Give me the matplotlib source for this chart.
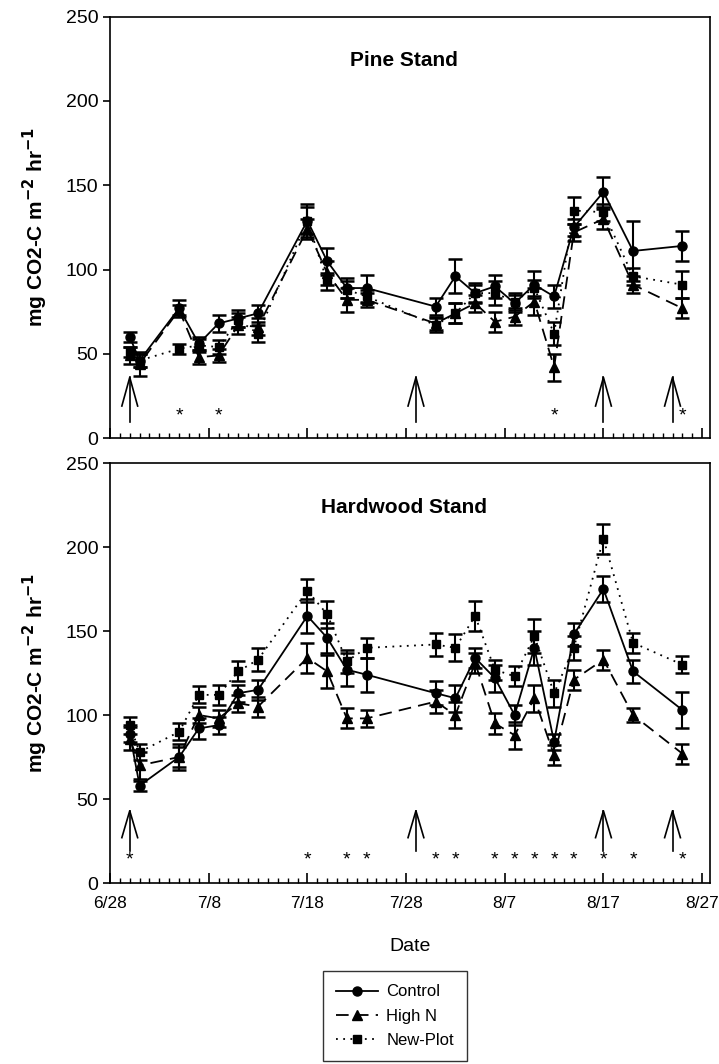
import numpy as np
import matplotlib
matplotlib.use("Agg")
import matplotlib.pyplot as plt
from matplotlib.lines import Line2D
from datetime import date

plt.rcParams['font.family'] = ['Liberation Sans', 'DejaVu Sans']

# sampling dates (same for both stands)
dates = ['6/30', '7/1', '7/5', '7/7', '7/9', '7/11', '7/13', '7/18', '7/20', '7/22', '7/24',
         '7/31', '8/2', '8/4', '8/6', '8/8', '8/10', '8/12', '8/14', '8/17', '8/20', '8/25']

# Pine stand
pine_control = [60, 46, 77, 56, 68, 71, 74, 129, 105, 89, 89, 78, 96, 86, 90, 80, 91, 84, 125, 146, 111, 114]
pine_control_err = [3, 4, 5, 4, 5, 5, 5, 10, 8, 6, 8, 5, 10, 6, 7, 5, 8, 7, 5, 9, 18, 9]
pine_highn = [49, 44, 76, 48, 49, 67, 66, 124, 98, 82, 82, 68, 74, 80, 69, 72, 81, 42, 122, 130, 91, 77]
pine_highn_err = [5, 7, 3, 4, 4, 5, 5, 6, 7, 7, 4, 4, 6, 5, 6, 5, 8, 8, 5, 6, 5, 6]
pine_new = [51, 46, 53, 55, 54, 70, 62, 129, 93, 88, 84, 67, 74, 86, 86, 81, 89, 62, 135, 134, 96, 91]
pine_new_err = [3, 4, 3, 4, 4, 4, 5, 8, 5, 5, 4, 4, 6, 5, 7, 5, 5, 7, 8, 5, 5, 8]

# Hardwood stand
hw_control = [89, 58, 75, 92, 94, 113, 115, 159, 146, 127, 124, 113, 110, 134, 122, 100, 140, 84, 148, 175, 126, 103]
hw_control_err = [5, 3, 8, 6, 5, 5, 6, 10, 9, 10, 10, 7, 8, 6, 8, 6, 10, 5, 7, 8, 7, 11]
hw_highn = [86, 70, 75, 100, 98, 107, 105, 134, 126, 98, 98, 108, 100, 131, 95, 88, 110, 76, 121, 133, 100, 77]
hw_highn_err = [7, 8, 6, 5, 5, 5, 6, 9, 10, 6, 5, 7, 8, 6, 6, 8, 8, 6, 6, 6, 4, 6]
hw_new = [94, 78, 90, 112, 112, 126, 133, 174, 160, 132, 140, 142, 140, 159, 127, 123, 147, 113, 140, 205, 143, 130]
hw_new_err = [5, 5, 5, 5, 6, 6, 7, 7, 8, 7, 6, 7, 8, 9, 6, 6, 10, 8, 7, 9, 6, 5]

# arrows (treatment dates) and significance stars
arrow_dates = ['6/30', '7/29', '8/17', '8/24']
pine_stars = ['7/5', '7/9', '8/12', '8/25']
hw_stars = ['6/30', '7/18', '7/22', '7/24', '7/31', '8/2', '8/6', '8/8', '8/10',
            '8/12', '8/14', '8/17', '8/20', '8/25']

xtick_labels = ['6/28', '7/8', '7/18', '7/28', '8/7', '8/17', '8/27']
series_names = ['Control', 'High N', 'New-Plot']


def to_day(s):
    m, d = map(int, s.split('/'))
    return (date(2001, m, d) - date(2001, 6, 28)).days


x = np.array([to_day(s) for s in dates])

styles = [
    dict(linestyle='-', marker='o', ms=6.5),
    dict(linestyle=(0, (7, 4)), marker='^', ms=6.5),
    dict(linestyle=(0, (1, 3)), marker='s', ms=6),
]

fig = plt.figure(figsize=(7.19, 10.64), dpi=100)
ax1 = fig.add_axes([0.153, 0.5883, 0.8345, 0.396])
ax2 = fig.add_axes([0.153, 0.1701, 0.8345, 0.3947])


def draw(ax, series, title, stars, arrow_tip, arrow_bot, arrow_barb, star_y):
    for (vals, errs), st in zip(series, styles):
        ax.errorbar(x, vals, yerr=errs, color='black', lw=1.3, elinewidth=1.5,
                    capsize=5, capthick=1.8, mfc='black', mec='black', **st)
    for a in arrow_dates:
        d = to_day(a)
        ax.plot([d, d], [arrow_bot, arrow_tip], color='black', lw=1.2)
        ax.plot([d - 0.8, d, d + 0.8], [arrow_barb, arrow_tip, arrow_barb], color='black', lw=1.2)
    for s in stars:
        ax.text(to_day(s), star_y, '*', ha='center', va='center', fontsize=14)
    ax.set_xlim(0, 60.8)
    ax.set_ylim(0, 250)
    ax.set_yticks(range(0, 251, 50))
    ax.set_xticks(range(0, 61, 10))
    ax.set_xticks(range(0, 61), minor=True)
    ax.tick_params(axis='x', which='major', direction='in', length=7, width=1.2)
    ax.tick_params(axis='x', which='minor', direction='in', length=3.5, width=1)
    ax.tick_params(axis='y', direction='out', length=5, width=1.2, labelsize=14)
    for sp in ax.spines.values():
        sp.set_linewidth(1.2)
    ax.text(0.49, 0.895, title, transform=ax.transAxes, ha='center', va='center',
            fontsize=15, fontweight='bold')
    ax.set_ylabel(r'mg CO2-C m$^{\mathbf{-2}}$ hr$^{\mathbf{-1}}$', fontsize=15, fontweight='bold')
    ax.yaxis.set_label_coords(-0.1, 0.5)


draw(ax1, [(pine_control, pine_control_err), (pine_highn, pine_highn_err), (pine_new, pine_new_err)],
     'Pine Stand', pine_stars, 36, 9.5, 19, 13)
draw(ax2, [(hw_control, hw_control_err), (hw_highn, hw_highn_err), (hw_new, hw_new_err)],
     'Hardwood Stand', hw_stars, 43, 19, 27, 14)

ax1.set_xticklabels([])
ax2.set_xticklabels(xtick_labels, fontsize=12.5)
ax2.tick_params(axis='x', which='major', pad=9)
ax2.set_xlabel('Date', fontsize=14, labelpad=20)

handles = [Line2D([], [], color='black', lw=1.3, markerfacecolor='black', **st) for st in styles]
leg = fig.legend(handles, series_names, loc='upper left', bbox_to_anchor=(0.449, 0.0874),
                 fontsize=12, frameon=True, fancybox=False, edgecolor='black',
                 handlelength=2.5, handletextpad=0.5, borderpad=0.8, labelspacing=0.55,
                 borderaxespad=0)
leg.get_frame().set_linewidth(1.0)

fig.savefig('out.png', dpi=100)
